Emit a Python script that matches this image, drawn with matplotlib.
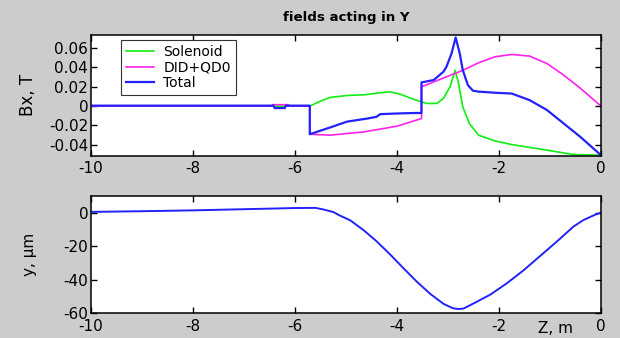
import numpy as np
import matplotlib.pyplot as plt

plt.rcParams['font.family'] = ['DejaVu Sans']
plt.rcParams['axes.unicode_minus'] = False

# --- top panel: fields acting in Y (Bx, T) ---
z_sol = [-10, -5.71, -5.51, -5.31, -4.98, -4.65, -4.33, -4.14, -3.94, -3.68,
         -3.42, -3.22, -3.09, -2.96, -2.86, -2.80, -2.71, -2.58, -2.40, -2.08,
         -1.75, -1.06, -0.54, 0]
b_sol = [0, 0, 0.005, 0.009, 0.011, 0.0117, 0.0138, 0.0148, 0.0124, 0.0072,
         0.0028, 0.0028, 0.0079, 0.020, 0.037, 0.025, -0.0007, -0.018, -0.030, -0.0359,
         -0.0397, -0.0455, -0.050, -0.0507]

z_did = [-10, -6.46, -6.44, -6.13, -6.11, -5.71, -5.71, -5.31, -4.65, -4.0,
         -3.52, -3.52, -3.03, -2.71, -2.40, -2.08, -1.75, -1.40, -1.06, -0.73,
         -0.40, 0]
b_did = [0, 0, 0.0015, 0.0015, 0, 0, -0.029, -0.030, -0.0266, -0.0207,
         -0.0128, 0.020, 0.0303, 0.037, 0.0448, 0.051, 0.0534, 0.0517, 0.044, 0.032,
         0.0183, 0]

z_tot = [-10, -6.42, -6.40, -6.20, -6.18, -5.71, -5.71, -5.31, -4.98, -4.58,
         -4.40, -4.33, -4.0, -3.75, -3.52, -3.52, -3.28, -3.09, -3.03, -2.93,
         -2.85, -2.77, -2.71, -2.61, -2.51, -2.40, -2.06, -1.75, -1.40, -1.06,
         -0.73, -0.40, 0]
b_tot = [0.0005, 0.0005, -0.002, -0.002, 0.0005, 0.0005, -0.029, -0.022, -0.016, -0.0128,
         -0.0110, -0.0083, -0.0076, -0.0072, -0.007, 0.0245, 0.027, 0.0355, 0.0407, 0.0545,
         0.0710, 0.0545, 0.0372, 0.0217, 0.0159, 0.015, 0.0138, 0.013, 0.0062, -0.004,
         -0.018, -0.032, -0.0507]

# --- bottom panel: y offset, um ---
z_y = [-10, -9, -8, -7, -6, -5.6, -5.45, -5.25, -5.1, -4.92, -4.66, -4.4, -4.14,
       -3.88, -3.61, -3.35, -3.09, -2.9, -2.8, -2.7, -2.5, -2.17, -1.85, -1.52,
       -1.19, -0.86, -0.54, -0.35, -0.21, -0.1, 0]
y_um = [0.5, 0.9, 1.4, 2.1, 2.8, 2.9, 2.0, 0.4, -2, -4.5, -10.3, -17.1, -24.8,
        -33, -41.3, -48.5, -54.5, -57.2, -57.6, -57.4, -54.3, -49, -42.3, -34.5,
        -25.8, -17.1, -8.3, -4.5, -2.5, -1, 0]

xticks = [-10, -8, -6, -4, -2, 0]
yticks_top = [-0.04, -0.02, 0, 0.02, 0.04, 0.06]
ylabels_top = ['-0.04', '-0.02', '0', '0.02', '0.04', '0.06']
yticks_bot = [-60, -40, -20, 0]

fig = plt.figure(figsize=(6.2, 3.38), dpi=100, facecolor='#cccccc')
ax1 = fig.add_axes([91/620, 1-155.5/338, 510/620, 120.5/338])
ax2 = fig.add_axes([91/620, 1-313/338, 510/620, 117/338])

ax1.plot(z_sol, b_sol, color='#11ee11', lw=1.2, label='Solenoid')
ax1.plot(z_did, b_did, color='#ff22ee', lw=1.2, label='DID+QD0')
ax1.plot(z_tot, b_tot, color='#2222ff', lw=1.6, label='Total')
ax1.set_xlim(-10, 0)
ax1.set_ylim(-0.051, 0.0735)
ax1.set_yticks(yticks_top)
ax1.set_yticklabels(ylabels_top)
ax1.set_ylabel('Bx, T', fontsize=12)
ax1.yaxis.set_label_coords(-0.106, 0.5)
ax1.set_title('fields acting in Y', fontsize=9.6, fontweight='bold', pad=10)
leg = ax1.legend(loc='upper left', bbox_to_anchor=(0.059, 0.955), borderaxespad=0,
                 fontsize=10, handlelength=2.0, handletextpad=0.7, labelspacing=0.1,
                 borderpad=0.35, fancybox=False, framealpha=1, edgecolor='#333333')
leg.get_frame().set_linewidth(0.8)

ax2.plot(z_y, y_um, color='#2222ff', lw=1.4)
ax2.set_xlim(-10, 0)
ax2.set_ylim(-60, 10)
ax2.set_yticks(yticks_bot)
ax2.set_ylabel('y, \u03bcm', fontsize=11)
ax2.yaxis.set_label_coords(-0.106, 0.5)
ax2.set_xlabel('Z, m', fontsize=11)
ax2.xaxis.set_label_coords(0.91, -0.07)

for ax in (ax1, ax2):
    ax.set_xticks(xticks)
    ax.set_facecolor('white')
    ax.tick_params(direction='in', length=4, width=1, top=True, right=True,
                   labelsize=11, pad=2)
    ax.tick_params(axis='x', pad=4)
    for s in ax.spines.values():
        s.set_linewidth(1.1)

fig.savefig('out.png', dpi=100, facecolor=fig.get_facecolor())
